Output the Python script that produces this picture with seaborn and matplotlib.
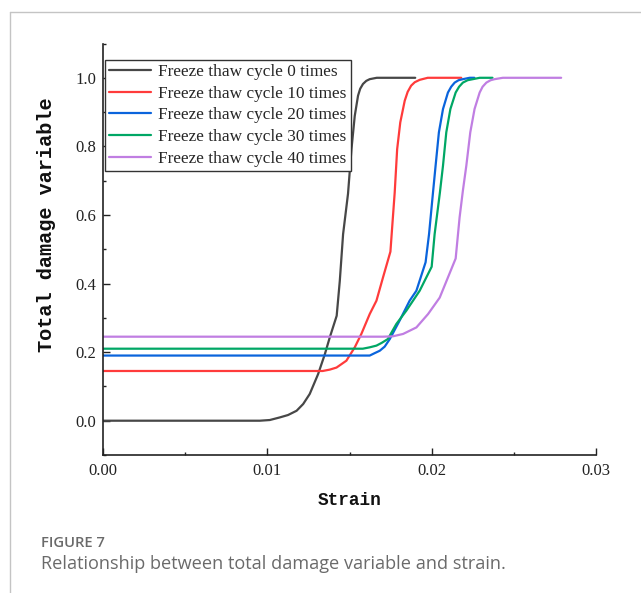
import pandas as pd
import seaborn as sns
import matplotlib
matplotlib.use("Agg")
import matplotlib.pyplot as plt
from matplotlib.lines import Line2D
from matplotlib.ticker import MultipleLocator, FormatStrFormatter

# Damage evolution curves (strain, total damage variable) for each freeze-thaw level
strain_0 = [0.0, 0.00954, 0.01015, 0.01076, 0.01126, 0.01178, 0.01218, 0.01258, 0.01309, 0.01350,
            0.01380, 0.01422, 0.01441, 0.01461, 0.01491, 0.01512, 0.01532, 0.01552, 0.01565,
            0.01582, 0.01602, 0.01623, 0.01666, 0.0190]
damage_0 = [0.0, 0.0, 0.002, 0.0096, 0.0166, 0.029, 0.0486, 0.078, 0.136, 0.194,
            0.243, 0.306, 0.408, 0.544, 0.662, 0.792, 0.889, 0.948, 0.968,
            0.982, 0.991, 0.996, 1.0, 1.0]

strain_10 = [0.0, 0.01337, 0.01380, 0.01421, 0.01481, 0.01532, 0.01573, 0.01623, 0.01664, 0.01704,
             0.01749, 0.01761, 0.01775, 0.01790, 0.01809, 0.01836, 0.01854, 0.01875, 0.01897,
             0.01927, 0.01976, 0.0218]
damage_10 = [0.145, 0.145, 0.149, 0.155, 0.175, 0.214, 0.254, 0.311, 0.350, 0.418,
             0.493, 0.573, 0.665, 0.792, 0.870, 0.933, 0.959, 0.977, 0.987,
             0.994, 1.0, 1.0]

strain_20 = [0.0, 0.01623, 0.01653, 0.01684, 0.01714, 0.01745, 0.01805, 0.01866, 0.01907, 0.01963,
             0.01984, 0.02008, 0.02024, 0.02044, 0.02069, 0.02099, 0.02119, 0.02140, 0.02164,
             0.02190, 0.02231, 0.0226]
damage_20 = [0.19, 0.19, 0.197, 0.204, 0.216, 0.238, 0.292, 0.350, 0.379, 0.462,
             0.544, 0.665, 0.744, 0.841, 0.909, 0.957, 0.974, 0.986, 0.993,
             0.996, 1.0, 1.0]

strain_30 = [0.0, 0.01581, 0.01623, 0.01664, 0.01696, 0.01733, 0.01785, 0.01846, 0.01927, 0.02000,
             0.02018, 0.02050, 0.02069, 0.02089, 0.02114, 0.02146, 0.02167, 0.02190, 0.02219,
             0.02251, 0.02292, 0.0237]
damage_30 = [0.21, 0.21, 0.214, 0.219, 0.227, 0.238, 0.282, 0.321, 0.379, 0.449,
             0.544, 0.665, 0.744, 0.841, 0.909, 0.957, 0.974, 0.986, 0.993,
             0.996, 1.0, 1.0]

strain_40 = [0.0, 0.01702, 0.01763, 0.01826, 0.01907, 0.01978, 0.02049, 0.02146, 0.02170, 0.02190,
             0.02211, 0.02235, 0.02261, 0.02292, 0.02310, 0.02333, 0.02359, 0.02383, 0.02433,
             0.02788]
damage_40 = [0.245, 0.245, 0.246, 0.253, 0.272, 0.311, 0.359, 0.473, 0.593, 0.671,
             0.744, 0.841, 0.909, 0.957, 0.974, 0.986, 0.993, 0.996, 1.0,
             1.0]

series_labels = ["Freeze thaw cycle 0 times", "Freeze thaw cycle 10 times",
                 "Freeze thaw cycle 20 times", "Freeze thaw cycle 30 times",
                 "Freeze thaw cycle 40 times"]
line_colors = ["#474747", "#ff3b3b", "#0a64dc", "#00a765", "#c07ee2"]

strains = [strain_0, strain_10, strain_20, strain_30, strain_40]
damages = [damage_0, damage_10, damage_20, damage_30, damage_40]

frames = []
for lab, xs, ys in zip(series_labels, strains, damages):
    frames.append(pd.DataFrame({"Strain": xs, "Damage": ys, "Series": lab}))
df = pd.concat(frames, ignore_index=True)

sns.set_theme(style="ticks")
plt.rcParams["font.family"] = ["Liberation Serif", "DejaVu Serif"]
plt.rcParams["xtick.direction"] = "in"
plt.rcParams["ytick.direction"] = "in"

fig = plt.figure(figsize=(6.41, 5.93), dpi=100)
ax = fig.add_axes([103 / 641, 1 - 455 / 593, (596 - 103) / 641, (455 - 43.5) / 593])

sns.lineplot(data=df, x="Strain", y="Damage", hue="Series", hue_order=series_labels,
             palette=line_colors, sort=False, estimator=None, units="Series",
             linewidth=1.6, ax=ax, legend=False)

ax.set_xlim(0, 0.03)
ax.set_ylim(-0.1, 1.1)
ax.xaxis.set_major_locator(MultipleLocator(0.01))
ax.xaxis.set_minor_locator(MultipleLocator(0.005))
ax.yaxis.set_major_locator(MultipleLocator(0.2))
ax.yaxis.set_minor_locator(MultipleLocator(0.1))
ax.xaxis.set_major_formatter(FormatStrFormatter("%.2f"))
ax.yaxis.set_major_formatter(FormatStrFormatter("%.1f"))
ax.tick_params(axis="both", which="major", length=5, width=1.0, color="#222222",
               labelsize=12, labelcolor="#222222")
ax.tick_params(axis="x", which="major", pad=6)
ax.tick_params(axis="y", which="major", pad=5)
ax.tick_params(axis="both", which="minor", length=2.5, width=1.0, color="#222222")

for side in ["top", "right"]:
    ax.spines[side].set_visible(False)
for side in ["left", "bottom"]:
    ax.spines[side].set_linewidth(1.2)
    ax.spines[side].set_color("#222222")

label_font = dict(family=["Liberation Mono", "DejaVu Sans Mono"], weight="bold",
                  size=12.8, color="#111111")
ax.set_xlabel("Strain", fontdict=label_font, labelpad=9)
ax.set_ylabel("Total damage variable", fontdict=dict(label_font, size=14.6))
ax.yaxis.set_label_coords(-0.095, 0.56)

handles = [Line2D([0], [0], color=c, lw=1.6) for c in line_colors]
leg = ax.legend(handles, series_labels, loc="upper left", bbox_to_anchor=(0.004, 0.96),
                frameon=True, fancybox=False, framealpha=1, edgecolor="#333333",
                fontsize=12.4, handlelength=2.4, handletextpad=0.45, labelspacing=0.32,
                borderpad=0.25, borderaxespad=0.0)
leg.get_frame().set_linewidth(1.0)

# Caption block and page border
fig.text(41 / 641, 1 - 543 / 593, "FIGURE 7", fontsize=10.6, color="#6a6a6a",
         family=["Open Sans", "DejaVu Sans"], weight="semibold", va="center", ha="left")
fig.text(41 / 641, 1 - 564 / 593, "Relationship between total damage variable and strain.",
         fontsize=13.1, color="#6a6a6a", family=["Open Sans", "DejaVu Sans"],
         va="center", ha="left")
fig.add_artist(Line2D([9.5 / 641, 1], [1 - 11.5 / 593, 1 - 11.5 / 593],
                      transform=fig.transFigure, color="#c4c4c4", lw=1.0))
fig.add_artist(Line2D([9.5 / 641, 9.5 / 641], [0, 1 - 11.5 / 593],
                      transform=fig.transFigure, color="#c4c4c4", lw=1.0))

fig.savefig("out.png", dpi=100)
